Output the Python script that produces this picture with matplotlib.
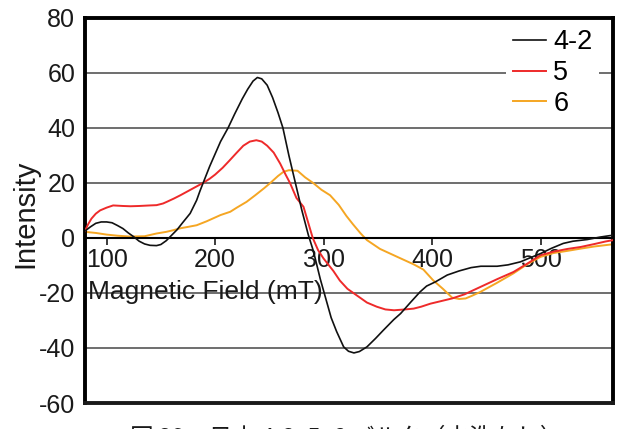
#!/usr/bin/env python3
"""ESR-like spectra of samples 4-2, 5 and 6"""

import matplotlib
matplotlib.use("Agg")
import matplotlib.pyplot as plt

# ---- data (Magnetic Field in mT, Intensity) ----
field_42 = [80, 85, 90, 95, 100, 105, 110, 115, 120, 125, 130, 135, 140, 146,
            150, 155, 160, 165, 170, 177, 183, 186, 190, 195, 200, 205, 212,
            218, 225, 230, 235, 239, 243, 248, 253, 258, 262.5, 268, 274, 280,
            286, 290, 292, 297, 302, 307, 312, 318.5, 323, 328, 333, 340, 348,
            355, 364.7, 371, 380, 389, 395, 403, 414, 425, 436, 445, 460, 470,
            481.5, 490, 500, 510, 521, 530, 543, 555, 567]
int_42 = [2.5, 4, 5.3, 5.8, 5.8, 5.5, 4.5, 3.4, 1.8, 0.4, -1.2, -2.2, -2.7,
          -2.8, -2.4, -1, 1, 3, 5.5, 8.9, 13.7, 17, 21, 26, 30.5, 35, 40, 45,
          50.5, 54, 57, 58.3, 57.8, 55.5, 51, 45.5, 40, 30, 20, 10, 1, -4, -7,
          -15, -22, -29, -34, -39.6, -41.2, -41.8, -41.3, -39.6, -36.5, -33.6,
          -29.7, -27.5, -23.5, -19.6, -17.5, -16, -13.5, -12, -10.8, -10.3,
          -10.3, -9.8, -8.7, -7.3, -5.7, -3.8, -2, -1.2, -0.6, 0.3, 1]

field_5 = [80, 83, 86, 90, 94, 100, 106, 115, 122, 130, 140, 146, 152, 156,
           162, 168, 175, 182, 189, 195, 200, 207, 213, 220, 226, 232, 238,
           243, 248, 254, 260, 265, 269, 275, 281.5, 290, 295, 300, 309, 315,
           322, 331, 340, 349, 357, 365, 375, 383, 390, 398.5, 408, 418.5,
           430, 444.7, 460, 475, 488, 500, 512, 525, 537, 550, 560, 567]
int_5 = [2.5, 5, 7, 8.8, 10, 11, 11.8, 11.6, 11.5, 11.6, 11.8, 11.9, 12.5,
         13.2, 14.3, 15.5, 17, 18.5, 20, 21.5, 23, 25.5, 28, 31, 33.5, 35,
         35.5, 35, 33.5, 31, 27, 23, 20, 14.5, 11.3, 0, -4.5, -7.5, -12,
         -15.5, -18.5, -21, -23.5, -25, -26, -26.3, -26, -25.7, -25, -23.9,
         -23, -22, -20.5, -17.8, -15, -12.4, -9.3, -6.3, -5, -4, -3.3, -2.2,
         -1.3, -0.8]

field_6 = [80, 90, 100, 110, 121, 135, 146, 155, 161.5, 168, 175, 183, 192,
           205, 214, 220, 229, 237, 245, 251, 258, 263, 268, 276, 283, 290.6,
           298, 306, 314, 321, 327, 334, 340, 352, 368, 383, 392, 401, 410,
           418.5, 425, 431, 437, 444.7, 460, 475, 488, 500, 512, 525, 537,
           550, 567]
int_6 = [2.2, 1.8, 1.2, 0.8, 0.5, 0.6, 1.6, 2.2, 2.8, 3.5, 4, 4.6, 6, 8.3,
         9.5, 11, 13.1, 15.5, 18, 20, 22.5, 24, 24.6, 24.4, 22, 19.9, 17.5,
         15.5, 12, 8, 5, 1.7, -0.8, -4, -6.9, -9.6, -11.5, -15.4, -18.5,
         -21.7, -22.2, -22, -21, -19.6, -16.3, -12.9, -9.5, -6.9, -5.5, -4.7,
         -3.9, -3.1, -2.3]

x_ticks = [100, 200, 300, 400, 500]
y_ticks = [-60, -40, -20, 0, 20, 40, 60, 80]
grid_levels = [-40, -20, 20, 40, 60]

plt.rcParams['font.family'] = ['Liberation Sans', 'DejaVu Sans']
plt.rcParams['axes.unicode_minus'] = False

fig = plt.figure(figsize=(6.2, 4.29), dpi=100)
ax = fig.add_axes([0.137, 0.0606, 0.852, 0.898])

# horizontal grid lines, drawn under the curves
for g in grid_levels:
    ax.axhline(g, color='#555555', lw=1.2, zorder=1)

ax.plot(field_42, int_42, color='#111111', lw=1.2, label='4-2', zorder=4)
ax.plot(field_5, int_5, color='#ee2a2a', lw=1.4, label='5', zorder=3)
ax.plot(field_6, int_6, color='#f5a623', lw=1.4, label='6', zorder=2)

ax.set_xlim(80, 567)
ax.set_ylim(-60, 80)
ax.set_xticks(x_ticks)
ax.set_yticks(y_ticks)

# x axis sits on the zero line, the frame keeps its bottom edge at -60
ax.spines['bottom'].set_position(('data', 0))
ax.spines['bottom'].set_linewidth(1.5)
for s in ['left', 'right', 'top']:
    ax.spines[s].set_linewidth(2.8)
ax.axhline(-60, color='#1a1a1a', lw=2.8, clip_on=False, zorder=5)

ax.tick_params(axis='x', direction='out', length=5, width=1.2, pad=2,
               labelsize=18, colors='#1a1a1a')
ax.tick_params(axis='y', length=0, pad=7, labelsize=18,
               colors='#1a1a1a')

ax.set_ylabel('Intensity', fontsize=21, color='#1a1a1a')
ax.yaxis.set_label_coords(-0.087, 0.49)
ax.text(82.5, -19.5, 'Magnetic Field (mT)', fontsize=19, va='center',
        ha='left', color='#1a1a1a', zorder=6)

leg = ax.legend(loc='upper left', bbox_to_anchor=(0.797, 0.988),
                fontsize=19.5, frameon=True, handlelength=1.22,
                handletextpad=0.28, labelspacing=0.18, borderpad=0.25,
                borderaxespad=0)
leg.get_frame().set_facecolor('white')
leg.get_frame().set_edgecolor('none')
leg.get_frame().set_alpha(1)

fig.text(0.56, -0.037, '図 29　日本 4-2, 5, 6 バルク（水洗なし）',
         fontsize=17, ha='center', va='baseline', color='#1a1a1a',
         family=['Noto Sans CJK JP', 'DejaVu Sans'])

fig.savefig('out.png', dpi=100)
